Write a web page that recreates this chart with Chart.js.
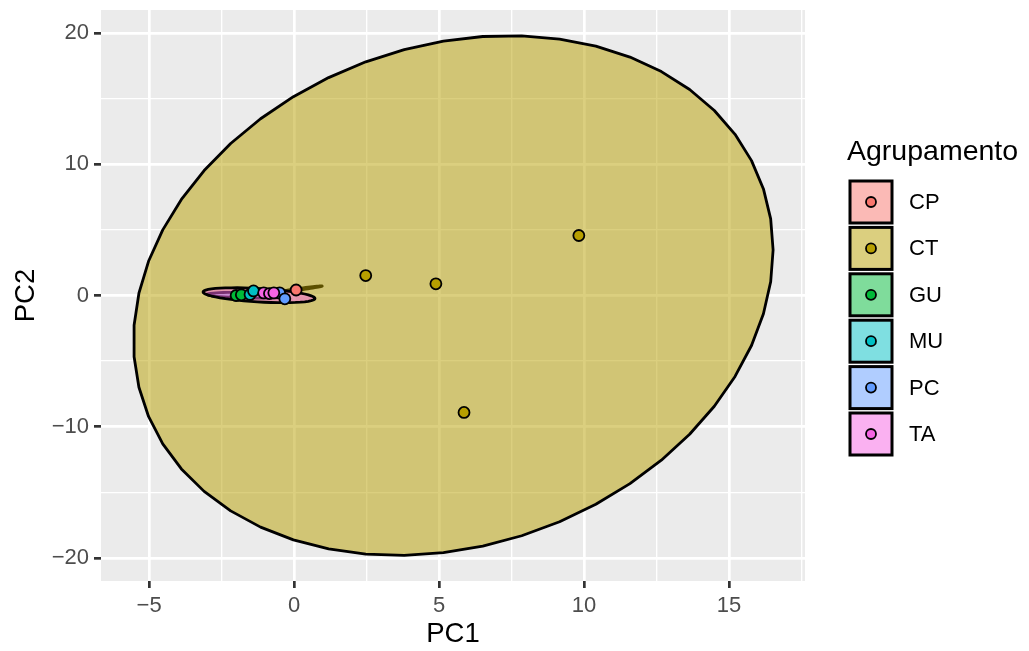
<!DOCTYPE html>
<html lang="pt">
<head>
<meta charset="UTF-8">
<script src="https://cdn.jsdelivr.net/npm/chart.js@4.4.0/dist/chart.umd.min.js"></script>
<title>PCA - Agrupamento</title>
<style>
  body { margin: 0; background: #ffffff; }
</style>
</head>
<body>
<canvas id="pca" width="1029" height="651"></canvas>
<script>
// groups and their ggplot hue colours
var groups = ['CP', 'CT', 'GU', 'MU', 'PC', 'TA'];
var groupColors = ['#F8766D', '#B79F00', '#00BA38', '#00BFC4', '#619CFF', '#F564E3'];

// PCA scores, one entry per sample
var pointGroup = ['CP', 'CT', 'CT', 'CT', 'CT', 'GU', 'GU', 'MU', 'MU', 'PC', 'PC', 'TA', 'TA', 'TA'];
var pointPC1 = [0.07, 2.47, 4.89, 9.82, 5.86, -2.00, -1.82, -1.52, -1.40, -0.50, -0.32, -1.05, -0.85, -0.70];
var pointPC2 = [0.42, 1.52, 0.89, 4.57, -8.91, 0.00, 0.05, 0.08, 0.35, 0.20, -0.25, 0.20, 0.15, 0.20];

// confidence ellipses: centre, half widths and phase shift between x and y
var ellipseGroup = ['CP', 'CT', 'PC', 'TA'];
var ellipseCX = [0.24, 5.49, -1.60, -1.21];
var ellipseCY = [0.50, 0.00, 0.02, 0.02];
var ellipseRX = [0.73, 11.03, 1.40, 1.93];
var ellipseRY = [0.23, 19.80, 0.22, 0.57];
var ellipsePhase = [1.28, 0.176, -0.30, -0.45];

// axis ticks (labelled) and minor grid lines
var xMajor = [-5, 0, 5, 10, 15];
var xMinor = [-2.5, 2.5, 7.5, 12.5, 17.5];
var yMajor = [-20, -10, 0, 10, 20];
var yMinor = [-15, -5, 5, 15];

var FONT = '"Liberation Sans", Arial, Helvetica, sans-serif';
Chart.defaults.font.family = FONT;

function isMajor(list, v) {
  for (var i = 0; i < list.length; i++) if (Math.abs(list[i] - v) < 1e-9) return true;
  return false;
}
function fmt(v) { return String(v).replace('-', '\u2212'); }

var datasets = groups.map(function (g, i) {
  var pts = [];
  for (var k = 0; k < pointGroup.length; k++) {
    if (pointGroup[k] === g) pts.push({ x: pointPC1[k], y: pointPC2[k] });
  }
  return {
    label: g,
    data: pts,
    backgroundColor: groupColors[i],
    borderColor: '#000000',
    borderWidth: 1.8,
    pointRadius: 5.5,
    pointHoverRadius: 5.5,
    order: -i
  };
});

var panelPlugin = {
  id: 'panel',
  beforeDraw: function (chart) {
    var c = chart.ctx, a = chart.chartArea;
    c.save();
    c.fillStyle = '#ffffff';
    c.fillRect(0, 0, chart.width, chart.height);
    c.fillStyle = '#EBEBEB';
    c.fillRect(a.left, a.top, a.right - a.left, a.bottom - a.top);
    c.restore();
  }
};

var ellipsePlugin = {
  id: 'ellipses',
  beforeDatasetsDraw: function (chart) {
    var c = chart.ctx, a = chart.chartArea;
    var xs = chart.scales.x, ys = chart.scales.y;
    var segments = 51;
    c.save();
    c.beginPath();
    c.rect(a.left, a.top, a.right - a.left, a.bottom - a.top);
    c.clip();
    for (var k = 0; k < ellipseGroup.length; k++) {
      var col = groupColors[groups.indexOf(ellipseGroup[k])];
      c.beginPath();
      for (var s = 0; s <= segments; s++) {
        var t = 2 * Math.PI * s / segments;
        var px = xs.getPixelForValue(ellipseCX[k] + ellipseRX[k] * Math.cos(t));
        var py = ys.getPixelForValue(ellipseCY[k] + ellipseRY[k] * Math.sin(t + ellipsePhase[k]));
        if (s === 0) c.moveTo(px, py); else c.lineTo(px, py);
      }
      c.closePath();
      c.globalAlpha = 0.5;
      c.fillStyle = col;
      c.fill();
      c.globalAlpha = 1;
      c.lineWidth = 2.8;
      c.lineJoin = 'round';
      c.strokeStyle = '#000000';
      c.stroke();
    }
    c.restore();
  }
};

var legendPlugin = {
  id: 'keyLegend',
  afterDraw: function (chart) {
    var c = chart.ctx;
    var left = 850, keyW = 42, keyH = 42, firstY = 202, step = 46.4;
    c.save();
    c.fillStyle = '#000000';
    c.textBaseline = 'middle';
    c.textAlign = 'left';
    c.font = '28.5px ' + FONT;
    c.fillText('Agrupamento', 847, 152);
    c.font = '22px ' + FONT;
    for (var i = 0; i < groups.length; i++) {
      var cy = firstY + i * step;
      c.globalAlpha = 0.5;
      c.fillStyle = groupColors[i];
      c.fillRect(left, cy - keyH / 2, keyW, keyH);
      c.globalAlpha = 1;
      c.lineWidth = 3;
      c.strokeStyle = '#000000';
      c.strokeRect(left, cy - keyH / 2, keyW, keyH);
      c.beginPath();
      c.arc(left + keyW / 2, cy, 5, 0, 2 * Math.PI);
      c.fillStyle = groupColors[i];
      c.fill();
      c.lineWidth = 1.8;
      c.stroke();
      c.fillStyle = '#000000';
      c.fillText(groups[i], 909, cy + 1);
    }
    c.restore();
  }
};

function axis(min, max, major, minor, size, title, titlePad) {
  return {
    type: 'linear',
    min: min,
    max: max,
    afterBuildTicks: function (scale) {
      scale.ticks = major.concat(minor).sort(function (a, b) { return a - b; })
        .map(function (v) { return { value: v }; });
    },
    afterFit: function (scale) {
      if (scale.isHorizontal()) {
        scale.height = size;
        scale.paddingLeft = 0;
        scale.paddingRight = 0;
      } else {
        scale.width = size;
        scale.paddingTop = 0;
        scale.paddingBottom = 0;
      }
    },
    border: { display: false },
    grid: {
      color: '#ffffff',
      lineWidth: function (ctx) { return isMajor(major, ctx.tick.value) ? 2.7 : 1.35; },
      tickLength: 7,
      tickWidth: 2.7,
      tickColor: function (ctx) { return isMajor(major, ctx.tick.value) ? '#333333' : 'rgba(0,0,0,0)'; }
    },
    ticks: {
      autoSkip: false,
      maxRotation: 0,
      padding: 5,
      color: '#4D4D4D',
      font: { size: 22 },
      callback: function (v) { return isMajor(major, v) ? fmt(v) : ''; }
    },
    title: {
      display: true,
      text: title,
      color: '#000000',
      font: { size: 27.5 },
      padding: titlePad
    }
  };
}

new Chart(document.getElementById('pca'), {
  type: 'scatter',
  data: { datasets: datasets },
  options: {
    responsive: false,
    devicePixelRatio: 1,
    animation: false,
    layout: { padding: { left: 0, top: 10, right: 224, bottom: 0 } },
    plugins: { legend: { display: false }, tooltip: { enabled: false } },
    scales: {
      x: axis(-6.66, 17.62, xMajor, xMinor, 70, 'PC1', { top: 0, bottom: 0 }),
      y: axis(-21.75, 21.75, yMajor, yMinor, 101, 'PC2', { top: 10, bottom: 0 })
    }
  },
  plugins: [panelPlugin, ellipsePlugin, legendPlugin]
});
</script>
</body>
</html>
